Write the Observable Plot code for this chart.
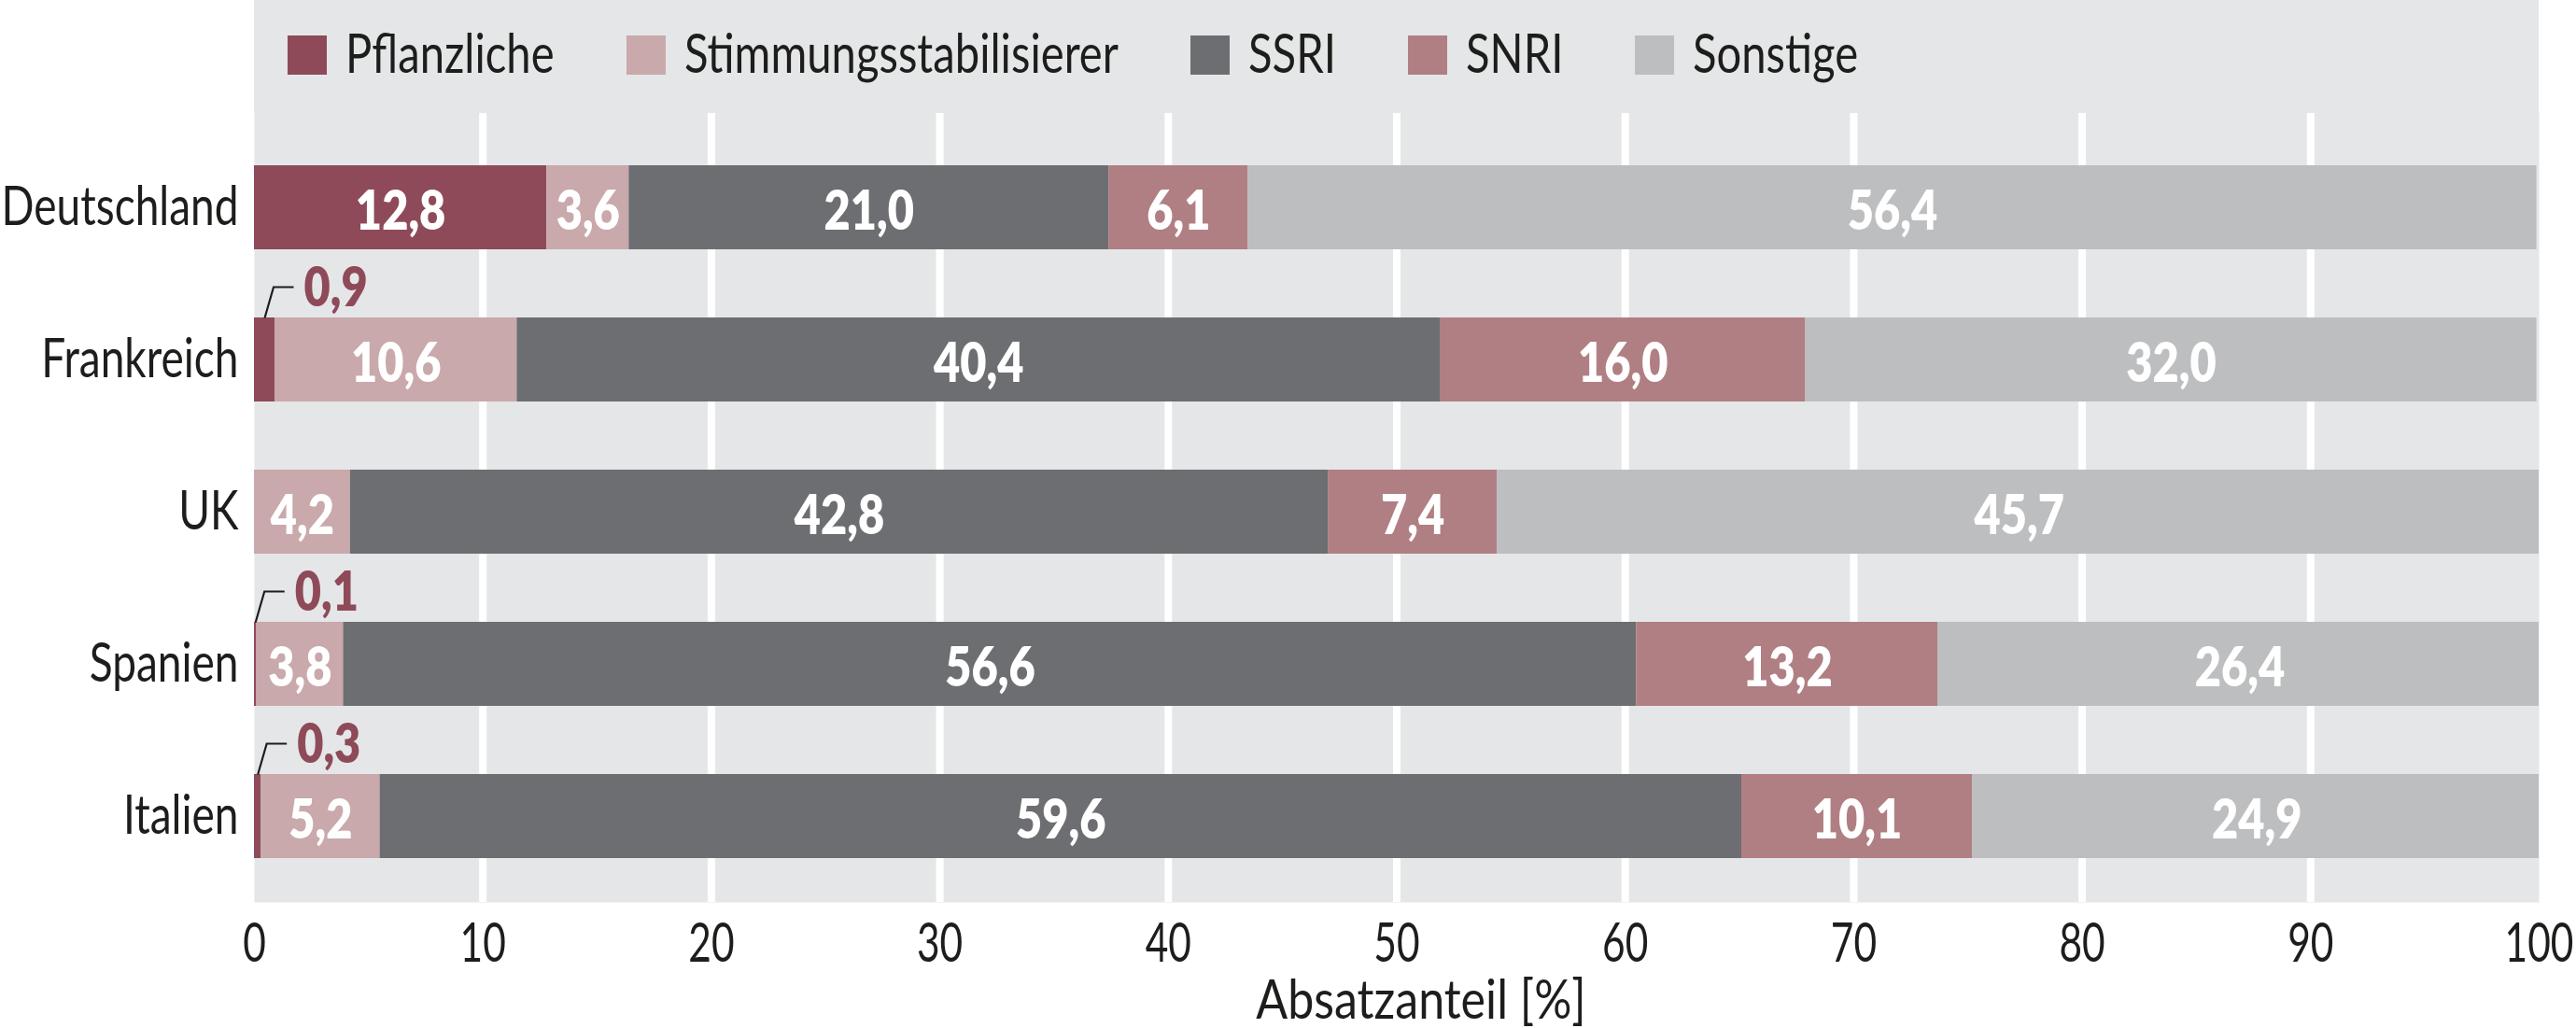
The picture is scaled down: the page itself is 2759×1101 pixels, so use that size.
<!DOCTYPE html>
<html>
<head>
<meta charset="utf-8">
<script src="https://cdn.jsdelivr.net/npm/d3@7"></script>
<script src="https://cdn.jsdelivr.net/npm/@observablehq/plot@0.6"></script>
<style>
  html, body { margin: 0; padding: 0; background: #ffffff; }
  #chart { width: 2759px; font-family: Lato, "Liberation Sans", sans-serif; }
  #legend {
    margin-left: 272px; width: 2447px; height: 121px; background: #e5e6e8;
    box-sizing: border-box; padding-left: 36px; padding-top: 38px;
    display: flex; align-items: flex-start; font-size: 59px; color: #1d1d1b;
  }
  .item { display: flex; align-items: center; margin-right: 77px; }
  .sw { width: 42px; height: 42px; margin-right: 20px; flex: none; }
  .lab { display: inline-block; line-height: 42px; white-space: nowrap; position: relative; top: -3px; transform-origin: 0 50%; }
  svg { display: block; }
</style>
</head>
<body>
<div id="chart"><div id="legend"></div></div>
<script>
// ---- data ----
const countries = ["Deutschland", "Frankreich", "UK", "Spanien", "Italien"];
const categories = ["Pflanzliche", "Stimmungsstabilisierer", "SSRI", "SNRI", "Sonstige"];
const colors = ["#8e4a58", "#c9a9ab", "#6d6e72", "#b07f83", "#bdbec0"];
const pflanzliche = [12.8, 0.9, null, 0.1, 0.3];
const stimmungsstabilisierer = [3.6, 10.6, 4.2, 3.8, 5.2];
const ssri = [21.0, 40.4, 42.8, 56.6, 59.6];
const snri = [6.1, 16.0, 7.4, 13.2, 10.1];
const sonstige = [56.4, 32.0, 45.7, 26.4, 24.9];
const xTicks = [0, 10, 20, 30, 40, 50, 60, 70, 80, 90, 100];
const gridTicks = [10, 20, 30, 40, 50, 60, 70, 80, 90];
const axisTitle = "Absatzanteil [%]";

const series = [pflanzliche, stimmungsstabilisierer, ssri, snri, sonstige];
const rows = [];
countries.forEach((c, i) => {
  categories.forEach((k, j) => {
    const v = series[j][i];
    if (v != null) rows.push({country: c, category: k, value: v});
  });
});
const fmt = v => v.toFixed(1).replace(".", ",");

// horizontal condensing factors (the original uses a condensed face)
const CONDENSE = 0.78;
const CONDENSE_TICKS = 0.72;
const CONDENSE_TITLE = 0.85;
const CONDENSE_LEGEND = 0.80;
const CONDENSE_BOLD = 0.84;

// legend
const legend = document.getElementById("legend");
const legendLabels = [];
categories.forEach((k, j) => {
  const it = document.createElement("div");
  it.className = "item";
  const sw = document.createElement("div");
  sw.className = "sw";
  sw.style.background = colors[j];
  const lb = document.createElement("span");
  lb.className = "lab";
  lb.textContent = k;
  it.appendChild(sw); it.appendChild(lb);
  legend.appendChild(it);
  legendLabels.push(lb);
});

// leader symbol: from bar top up-right, then horizontal
const leader = {
  draw(context) {
    context.moveTo(0, -45);
    context.lineTo(9.5, -78);
    context.lineTo(31, -78);
  }
};

const stackOpts = {x: "value", y: "country", z: "category", order: categories};

const chart = Plot.plot({
  width: 2759,
  height: 980,
  marginTop: 0,
  marginLeft: 272,
  marginRight: 40,
  marginBottom: 135,
  style: {
    fontFamily: 'Lato, "Liberation Sans", sans-serif',
    fontSize: "59px",
    color: "#1d1d1b",
    background: "#ffffff"
  },
  x: {domain: [0, 100], clamp: true, label: null},
  y: {domain: countries, paddingInner: 0.45, paddingOuter: 0.31, align: 0.54, label: null},
  color: {domain: categories, range: colors},
  marks: [
    Plot.frame({fill: "#e5e6e8", stroke: null, insetTop: -2}),
    Plot.ruleX(gridTicks, {stroke: "#ffffff", strokeWidth: 8}),
    Plot.barX(rows, Plot.stackX({...stackOpts, fill: "category"})),
    Plot.text(rows, Plot.stackX({
      ...stackOpts,
      text: d => d.value >= 1 ? fmt(d.value) : null,
      fill: "#ffffff", fontWeight: 800, fontSize: 58, dy: 5
    })),
    Plot.text(rows, Plot.stackX({
      ...stackOpts,
      text: d => d.value < 1 ? fmt(d.value) : null,
      fill: "#8e4a58", fontWeight: 800, fontSize: 58,
      textAnchor: "start", dx: 42, dy: -76
    })),
    Plot.dot(rows.filter(d => d.value < 1), Plot.stackX({
      ...stackOpts,
      symbol: leader, fill: "none", stroke: "#1d1d1b", strokeWidth: 2.2
    })),
    Plot.axisX(xTicks, {tickSize: 0, tickPadding: 22, label: null, tickFormat: d => String(d)}),
    Plot.axisY({tickSize: 0, tickPadding: 17, label: null}),
    Plot.text([axisTitle], {frameAnchor: "bottom", lineAnchor: "bottom", dy: 124, dx: 26, fill: "#1d1d1b"})
  ]
});
document.getElementById("chart").appendChild(chart);

function condense() {
  chart.querySelectorAll("text").forEach(t => {
    t.removeAttribute("textLength");
    t.removeAttribute("lengthAdjust");
    const w = +getComputedStyle(t).fontWeight;
    const isTitle = t.textContent === axisTitle;
    const isTick = !!t.closest('[aria-label="x-axis tick label"]');
    const f = w >= 600 ? CONDENSE_BOLD : isTitle ? CONDENSE_TITLE : isTick ? CONDENSE_TICKS : CONDENSE;
    const L = t.getComputedTextLength();
    if (L > 0) {
      t.setAttribute("textLength", (L * f).toFixed(2));
      t.setAttribute("lengthAdjust", "spacingAndGlyphs");
    }
  });
  legendLabels.forEach(lb => {
    lb.style.transform = "none";
    lb.style.marginRight = "0px";
    const w = lb.getBoundingClientRect().width;
    lb.style.transform = `scaleX(${CONDENSE_LEGEND})`;
    lb.style.marginRight = `${(w * CONDENSE_LEGEND - w).toFixed(2)}px`;
  });
}
condense();
if (document.fonts && document.fonts.ready) document.fonts.ready.then(condense);
</script>
</body>
</html>
